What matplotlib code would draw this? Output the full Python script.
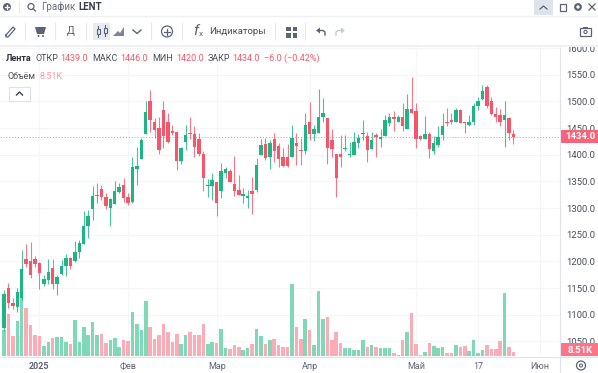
import matplotlib
matplotlib.use("Agg")
import matplotlib.pyplot as plt
from matplotlib.patches import Circle, Polygon, Rectangle

plt.rcParams["font.family"] = ["Roboto", "DejaVu Sans"]

# daily candles
opens = [1075, 1150, 1122, 1114, 1131, 1204, 1201, 1204, 1197, 1158, 1165, 1188, 1158, 1176, 1191, 1206,
         1200, 1217, 1233, 1266, 1298, 1323, 1336, 1320, 1300, 1308, 1330, 1344, 1320, 1311, 1374, 1391,
         1439, 1501, 1461, 1450, 1484, 1461, 1444, 1443, 1389, 1423, 1441, 1439, 1429, 1401, 1342, 1341,
         1349, 1331, 1365, 1370, 1345, 1333, 1322, 1318, 1332, 1333, 1399, 1420, 1395, 1429, 1416, 1395,
         1396, 1395, 1421, 1409, 1407, 1461, 1439, 1440, 1471, 1468, 1427, 1401, 1402, 1411, 1399, 1400,
         1422, 1439, 1435, 1411, 1437, 1429, 1435, 1460, 1471, 1462, 1470, 1449, 1485, 1481, 1435, 1430,
         1439, 1407, 1418, 1436, 1461, 1465, 1462, 1484, 1461, 1456, 1462, 1491, 1504, 1526, 1500, 1476,
         1474, 1465, 1468, 1439]
highs = [1146, 1159, 1131, 1150, 1221, 1232, 1236, 1210, 1199, 1174, 1204, 1204, 1175, 1203, 1214, 1209,
         1238, 1240, 1294, 1296, 1341, 1346, 1343, 1328, 1318, 1351, 1346, 1356, 1328, 1396, 1415, 1432,
         1501, 1521, 1468, 1470, 1501, 1478, 1456, 1445, 1415, 1456, 1470, 1454, 1440, 1406, 1354, 1365,
         1349, 1385, 1376, 1373, 1398, 1361, 1337, 1334, 1359, 1394, 1429, 1431, 1427, 1440, 1421, 1412,
         1420, 1456, 1440, 1431, 1479, 1499, 1456, 1523, 1506, 1468, 1449, 1402, 1437, 1437, 1424, 1443,
         1439, 1465, 1442, 1443, 1440, 1449, 1474, 1478, 1481, 1474, 1496, 1514, 1545, 1496, 1437, 1473,
         1443, 1435, 1454, 1478, 1487, 1478, 1487, 1485, 1461, 1474, 1496, 1508, 1531, 1531, 1508, 1490,
         1485, 1500, 1470, 1446]
lows = [1070, 1112, 1110, 1105, 1128, 1189, 1169, 1190, 1148, 1153, 1157, 1148, 1137, 1174, 1172, 1186,
        1199, 1207, 1233, 1243, 1278, 1309, 1315, 1298, 1266, 1308, 1329, 1312, 1306, 1310, 1344, 1391,
        1439, 1443, 1432, 1402, 1412, 1422, 1437, 1371, 1383, 1409, 1429, 1396, 1398, 1332, 1321, 1315,
        1286, 1318, 1357, 1348, 1322, 1324, 1310, 1301, 1289, 1330, 1399, 1390, 1373, 1387, 1376, 1376,
        1376, 1395, 1381, 1381, 1401, 1427, 1426, 1440, 1462, 1382, 1396, 1321, 1377, 1406, 1395, 1399,
        1412, 1427, 1387, 1410, 1396, 1415, 1435, 1453, 1445, 1462, 1445, 1449, 1479, 1412, 1428, 1430,
        1394, 1401, 1415, 1428, 1454, 1458, 1462, 1459, 1440, 1454, 1456, 1484, 1503, 1487, 1474, 1462,
        1453, 1414, 1428, 1420]
closes = [1139, 1122, 1116, 1142, 1186, 1196, 1174, 1196, 1178, 1167, 1181, 1157, 1171, 1191, 1206, 1191,
          1218, 1234, 1266, 1285, 1323, 1324, 1320, 1304, 1316, 1331, 1339, 1319, 1310, 1376, 1379, 1428,
          1480, 1465, 1446, 1409, 1435, 1423, 1440, 1389, 1412, 1436, 1438, 1414, 1401, 1357, 1343, 1352,
          1310, 1370, 1374, 1349, 1331, 1324, 1327, 1323, 1327, 1381, 1418, 1394, 1421, 1406, 1392, 1379,
          1379, 1431, 1416, 1406, 1456, 1439, 1448, 1471, 1478, 1413, 1411, 1356, 1396, 1413, 1400, 1423,
          1431, 1440, 1408, 1428, 1434, 1434, 1465, 1470, 1466, 1470, 1453, 1485, 1479, 1429, 1429, 1439,
          1410, 1421, 1433, 1454, 1459, 1461, 1484, 1460, 1459, 1461, 1491, 1501, 1519, 1492, 1476, 1470,
          1461, 1474, 1440, 1434]
# thousands of shares
volumes = [54.6, 90, 41.8, 73.7, 123, 103, 65, 45, 43, 20.6, 29, 38, 40, 40, 29, 25,
           76, 29, 62, 45, 72, 45, 46, 27, 35, 38, 20, 35, 31, 94, 69, 56,
           116, 62, 37, 45, 69, 50, 29, 47.5, 25.5, 45, 51, 45, 45, 69, 25, 30.5,
           27, 57, 16, 15, 23, 20, 13.5, 18, 25.5, 57, 42, 25, 33, 37, 23, 19,
           18.5, 154, 62, 37, 78, 55, 23, 138, 78, 82, 35, 50, 28, 17, 17, 12,
           13.5, 35, 20, 23, 20, 18, 17, 17, 7, 3, 35, 50, 91, 25, 3, 8.5,
           27, 20.6, 17, 20, 5.7, 5.7, 23, 19, 21, 10, 33, 7, 13.5, 23, 14, 14,
           31, 135, 18.5, 8.51]

time_ticks = [8, 28, 48, 69, 93, 107, 121]
time_labels = ["2025", "Фев", "Мар", "Апр", "Май", "17", "Июн"]
price_ticks = [1050, 1100, 1150, 1200, 1250, 1300, 1350, 1400, 1450, 1500, 1550, 1600]

GREEN = "#1db584"
RED = "#f7566a"
GREEN_VOL = "#7fd8b6"
RED_VOL = "#fbacb6"
GRID = "#f5f6f8"
LINE = "#e0e3eb"
TEXT = "#4a4e5c"
ICON = "#5b6475"
FS = 6.5

W, H = 598, 373
fig = plt.figure(figsize=(W / 100, H / 100), dpi=100, facecolor="white")
# plot area spans x 0-560, y 47-356 in pixels
ax = fig.add_axes([0, (H - 356) / H, 560 / W, 309 / H])
ax_vol = ax.twinx()
ax.set_zorder(2)
ax_vol.set_zorder(1)
ax.patch.set_visible(False)

n = len(closes)
idx = list(range(n))
ax.set_xlim(-0.9, 125.5)
ax.set_ylim(1022.6, 1601.9)
ax_vol.set_ylim(0, 657)

# grid sits on the volume axes so that it stays under the bars
ax_vol.set_yticks([])
for p in price_ticks:
    ax_vol.axhline((p - 1022.6) / (1601.9 - 1022.6) * 657, color=GRID, lw=0.8, zorder=0)
for t in time_ticks:
    ax_vol.axvline(t, color=GRID, lw=0.8, zorder=0)

up = [c >= o for o, c in zip(opens, closes)]
ax_vol.bar(idx, volumes, width=0.8, color=[GREEN_VOL if u else RED_VOL for u in up], lw=0, zorder=2)

colors = [GREEN if u else RED for u in up]
ax.vlines(idx, lows, highs, colors=colors, lw=0.8, alpha=0.8, zorder=3)
ax.bar(idx, [max(abs(c - o), 2) for o, c in zip(opens, closes)],
       bottom=[min(o, c) for o, c in zip(opens, closes)],
       width=0.78, color=colors, lw=0, zorder=4)

last = closes[-1]
ax.axhline(last, color="#f8808f", lw=0.7, ls=(0, (1, 2)), zorder=2)

for spine in list(ax.spines.values()) + list(ax_vol.spines.values()):
    spine.set_visible(False)

ax.yaxis.tick_right()
ax.set_yticks(price_ticks, [f"{p:.1f}" for p in price_ticks])
ax.tick_params(axis="y", length=0, pad=4.5, labelsize=FS + 0.3, labelcolor=TEXT)
ax.set_xticks(time_ticks, time_labels)
ax.tick_params(axis="x", length=0, pad=4.5, labelsize=FS, labelcolor="#5f6475")
ax.get_xticklabels()[0].set_fontweight("bold")

# last price and volume tags on the right scale
trans = ax.get_yaxis_transform()
ax.add_patch(Rectangle((1, last - 11.5), 38 / 560, 23, transform=trans, color="#f9637a",
                       clip_on=False, lw=0, zorder=10))
ax.text(1 + 20 / 560, last - 0.5, f"{last:.1f}", transform=trans, color="white", fontsize=FS + 0.3,
        ha="center", va="center", fontweight="bold", zorder=11)
ax.add_patch(Rectangle((1, 0), 38 / 560, 13 / 309, transform=ax.transAxes, color="#fb7587",
                       clip_on=False, lw=0, zorder=10))
ax.text(1 + 20 / 560, 5.5 / 309, "8.51K", transform=ax.transAxes, color="white", fontsize=FS + 0.3,
        ha="center", va="center", fontweight="bold", zorder=11)

# ---- interface chrome, in pixel coordinates ----
ui = fig.add_axes([0, 0, 1, 1], zorder=5)
ui.set_xlim(0, W)
ui.set_ylim(H, 0)
ui.axis("off")
ui.patch.set_visible(False)


def hline(x0, x1, y, c=LINE, lw=0.8):
    ui.plot([x0, x1], [y, y], color=c, lw=lw, solid_capstyle="butt")


def vline(x, y0, y1, c=LINE, lw=0.8):
    ui.plot([x, x], [y0, y1], color=c, lw=lw, solid_capstyle="butt")


# axis borders
vline(560, 47, H)
hline(0, W, 356.5)

# toolbars
ui.add_patch(Rectangle((0, 0), W, 45.5, color="white", lw=0))
hline(0, W, 15.5, "#eef0f3", 1.0)
ui.add_patch(Rectangle((0, 45), W, 2, color="#eef0f3", lw=0))
for x in [25, 55, 86, 151, 182, 275, 305]:
    vline(x, 22, 40, "#e6e8ec")
vline(19, 1, 13, "#e6e8ec")

# top bar
ui.add_patch(Circle((7, 7), 4, color=ICON, lw=0))
ui.plot([5, 9], [7, 7], color="white", lw=0.9)
ui.plot([7, 7], [5, 9], color="white", lw=0.9)
ui.add_patch(Circle((31, 6.5), 3, fill=False, ec=ICON, lw=0.9))
ui.plot([33, 35.5], [8.7, 11], color=ICON, lw=0.9)
ui.text(41, 7, "График", fontsize=FS + 0.5, color="#6b7080", va="center")
ui.text(78, 7, "LENT", fontsize=FS + 0.5, color="#3a3f4d", va="center", fontweight="bold")
ui.add_patch(Rectangle((534, 0), 19, 15, color="#dfe4ec", lw=0))
ui.plot([540, 543.5, 547], [9, 6, 9], color=ICON, lw=0.9)
ui.add_patch(Rectangle((560, 3.5), 6, 7, fill=False, ec=ICON, lw=0.9))
ui.add_patch(Circle((578, 7), 2.8, fill=False, ec=ICON, lw=1.6))
ui.plot([589, 595], [4, 10], color=ICON, lw=0.9)
ui.plot([589, 595], [10, 4], color=ICON, lw=0.9)

# second bar
ui.plot([6, 13, 15, 8, 6, 6], [35, 27, 29, 37, 37, 35], color=ICON, lw=0.9)
ui.add_patch(Polygon([[35, 27], [46, 27], [44, 34], [37, 34]], color=ICON, lw=0))
ui.add_patch(Circle((38.5, 36), 1.0, color=ICON, lw=0))
ui.add_patch(Circle((43, 36), 1.0, color=ICON, lw=0))
ui.text(71, 31.5, "Д", fontsize=FS + 1, color=ICON, ha="center", va="center")
ui.add_patch(Rectangle((93, 23), 17, 17, color="#e8ebf0", lw=0))
ui.plot([98, 98], [26, 37], color=ICON, lw=0.8)
ui.plot([105, 105], [25, 36], color=ICON, lw=0.8)
ui.add_patch(Rectangle((96.5, 29), 3, 5, fc="#e8ebf0", ec=ICON, lw=0.8, zorder=4))
ui.add_patch(Rectangle((103.5, 28), 3, 5, fc="#e8ebf0", ec=ICON, lw=0.8, zorder=4))
ui.add_patch(Polygon([[113, 36], [118, 31], [120, 33], [124, 27], [124, 36]], color="#7c8495", lw=0))
ui.plot([133, 137, 141], [30, 33.5, 30], color=ICON, lw=1.0)
ui.add_patch(Circle((167, 31.5), 5.5, fill=False, ec=ICON, lw=0.9))
ui.plot([164, 170], [31.5, 31.5], color=ICON, lw=0.9)
ui.plot([167, 167], [28.5, 34.5], color=ICON, lw=0.9)
ui.text(193, 31, "f", fontsize=11, color=ICON, ha="left", va="center", style="italic")
ui.text(199, 34.5, "x", fontsize=6, color=ICON, ha="left", va="center")
ui.text(209, 31, "Индикаторы", fontsize=FS + 0.3, color=TEXT, va="center")
for gx in [286, 292.5]:
    for gy in [26.5, 33]:
        ui.add_patch(Rectangle((gx, gy), 4.5, 4.5, color=ICON, lw=0))
# undo / redo arrows
ui.add_patch(Polygon([[316, 30.5], [320, 27.5], [320, 33.5]], color=ICON, lw=0))
ui.plot([319, 323, 325, 325], [30.5, 30.5, 32, 35], color=ICON, lw=1.0)
ui.add_patch(Polygon([[345, 30.5], [341, 27.5], [341, 33.5]], color="#c5c9d1", lw=0))
ui.plot([342, 338, 336, 336], [30.5, 30.5, 32, 35], color="#c5c9d1", lw=1.0)
# camera
ui.add_patch(Rectangle((580, 28), 11, 8, fill=False, ec=ICON, lw=0.9))
ui.add_patch(Rectangle((583, 26.5), 5, 1.5, color=ICON, lw=0))
ui.add_patch(Circle((585.5, 32), 1.6, fill=False, ec=ICON, lw=0.8))

# legend
ui.text(6, 58.5, "Лента", fontsize=FS, color="#2f3340", va="center", fontweight="bold")
legend_items = [(36, "ОТКР", "1439.0"), (92, "МАКС", "1446.0"), (152, "МИН", "1420.0"), (208, "ЗАКР", "1434.0")]
value_x = [60, 120, 176, 232]
for (lx, lab, val), vx in zip(legend_items, value_x):
    ui.text(lx, 58.5, lab, fontsize=FS, color=TEXT, va="center")
    ui.text(vx, 58.5, val, fontsize=FS, color=RED, va="center")
ui.text(264, 58.5, "−6.0 (−0.42%)", fontsize=FS, color=RED, va="center")
ui.text(7, 76.5, "Объём", fontsize=FS, color=TEXT, va="center")
ui.text(40, 76.5, "8.51K", fontsize=FS, color="#fb9aa6", va="center")
ui.add_patch(Rectangle((9, 87), 21, 14, fc="white", ec="#dfe1e6", lw=0.8))
ui.plot([16.5, 19.5, 22.5], [95, 92, 95], color="#3a3f4d", lw=1.0)

# scale settings button
ui.add_patch(Circle((581, 365.5), 4.5, fill=False, ec=ICON, lw=0.9))
ui.add_patch(Circle((581, 365.5), 1.5, fill=False, ec=ICON, lw=0.8))

fig.savefig("out.png", dpi=100)
